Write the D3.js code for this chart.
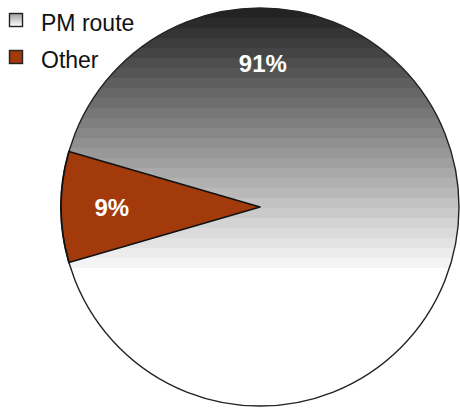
<!DOCTYPE html>
<html>
<head>
<meta charset="utf-8">
<script src="https://cdn.jsdelivr.net/npm/d3@7"></script>
<style>
  html, body { margin: 0; padding: 0; background: #fff; }
  svg { display: block; }
  text { font-family: Arial, "Liberation Sans", sans-serif; }
</style>
</head>
<body>
<svg id="chart" width="460" height="409"></svg>
<script>
// Share of routes
const categories = ["PM route", "Other"];
const values = [91, 9];
const valueLabels = ["91%", "9%"];

const width = 460, height = 409;
const cx = 260, cy = 207, radius = 199;
const otherColor = "#a23a0b";

const svg = d3.select("#chart");
const defs = svg.append("defs");

// Banded vertical shading for the large slice (coordinates relative to the pie centre):
// dark at the top, fading to white a little below the centre, plain white beneath
const bandCount = 26;
const shadeTop = -radius, shadeEnd = 268 - cy, shadeBottom = radius;
const grey = d3.interpolateRgb("#232323", "#f4f4f4");
const shade = defs.append("linearGradient")
  .attr("id", "shade")
  .attr("gradientUnits", "userSpaceOnUse")
  .attr("x1", 0).attr("x2", 0)
  .attr("y1", shadeTop).attr("y2", shadeBottom);
const frac = (shadeEnd - shadeTop) / (shadeBottom - shadeTop);
for (let i = 0; i < bandCount; i++) {
  const c = grey(i / (bandCount - 1));
  shade.append("stop").attr("offset", frac * i / bandCount).attr("stop-color", c);
  shade.append("stop").attr("offset", frac * (i + 1) / bandCount).attr("stop-color", c);
}
shade.append("stop").attr("offset", frac).attr("stop-color", "#ffffff");
shade.append("stop").attr("offset", 1).attr("stop-color", "#ffffff");

const legendShade = defs.append("linearGradient")
  .attr("id", "legendShade")
  .attr("x1", 0).attr("x2", 0).attr("y1", 0).attr("y2", 1);
legendShade.append("stop").attr("offset", 0).attr("stop-color", "#a0a0a0");
legendShade.append("stop").attr("offset", 1).attr("stop-color", "#ffffff");

const fills = ["url(#shade)", otherColor];
const legendFills = ["url(#legendShade)", otherColor];

// Rotate so the small slice is centred on the left-hand side
const total = d3.sum(values);
const smallMid = (values[0] + values[1] / 2) / total * 2 * Math.PI;
const start = 1.5 * Math.PI - smallMid;

const pie = d3.pie().sort(null).value(d => d)
  .startAngle(start).endAngle(start + 2 * Math.PI);
const arcs = pie(values);
const arc = d3.arc().innerRadius(0).outerRadius(radius);

const g = svg.append("g").attr("transform", `translate(${cx},${cy})`);

g.selectAll("path.slice")
  .data(arcs)
  .join("path")
  .attr("class", "slice")
  .attr("d", arc)
  .attr("fill", (d, i) => fills[i])
  .attr("stroke", "none");

// Outer rim of the pie
g.append("circle")
  .attr("r", radius)
  .attr("fill", "none")
  .attr("stroke", "#222")
  .attr("stroke-width", 1.4);

// Outline of the small slice on top of the rim
g.append("path")
  .datum(arcs[1])
  .attr("d", arc)
  .attr("fill", "none")
  .attr("stroke", "#111")
  .attr("stroke-width", 1.7)
  .attr("stroke-linejoin", "round");

// Percentage labels: large slice at the top, small slice at its centroid
const labelRadii = [0.72, 0.745];
const labelPos = arcs.map((d, i) => {
  const a = i === 0 ? 0.02 : (d.startAngle + d.endAngle) / 2;
  const r = radius * labelRadii[i];
  return [Math.sin(a) * r, -Math.cos(a) * r];
});
g.selectAll("text.pct")
  .data(arcs)
  .join("text")
  .attr("class", "pct")
  .attr("x", (d, i) => labelPos[i][0])
  .attr("y", (d, i) => labelPos[i][1])
  .attr("dy", "0.36em")
  .attr("text-anchor", "middle")
  .attr("fill", "#ffffff")
  .attr("font-weight", "bold")
  .attr("font-size", 24)
  .text((d, i) => valueLabels[i]);

// Legend
const legend = svg.append("g").attr("transform", "translate(9,13)");
const item = legend.selectAll("g")
  .data(categories)
  .join("g")
  .attr("transform", (d, i) => `translate(0,${i * 37})`);
item.append("rect")
  .attr("x", 0.5).attr("y", 0.5)
  .attr("width", 13).attr("height", 13)
  .attr("fill", (d, i) => legendFills[i])
  .attr("stroke", "#222")
  .attr("stroke-width", 1.4);
item.append("text")
  .attr("x", 32)
  .attr("y", 17.5)
  .attr("font-size", 23)
  .attr("fill", "#111")
  .text(d => d);
</script>
</body>
</html>
